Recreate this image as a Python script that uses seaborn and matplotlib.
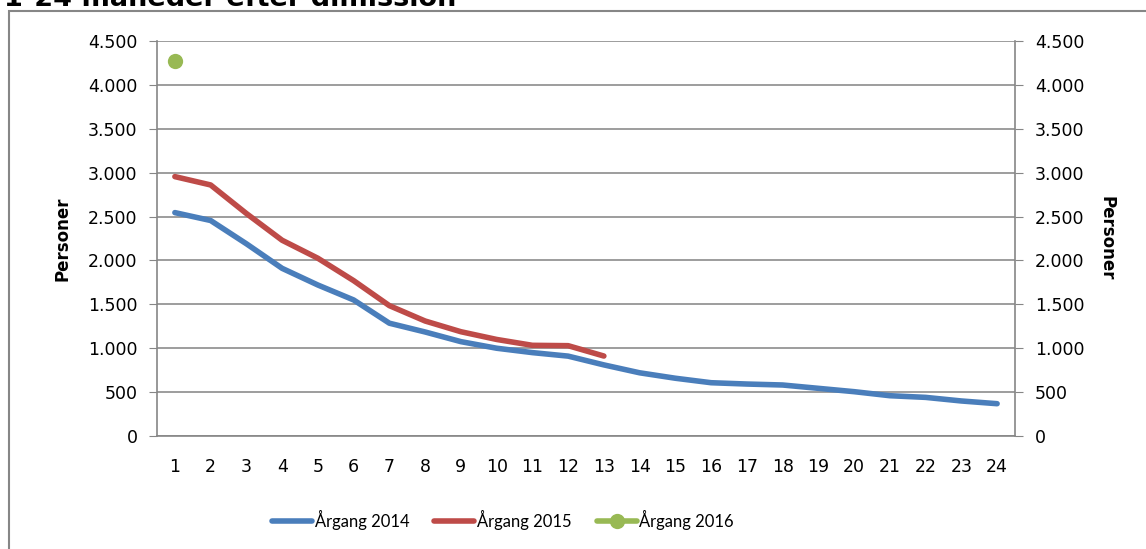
import matplotlib
matplotlib.use("Agg")
import matplotlib.pyplot as plt
from matplotlib.patches import Rectangle
from matplotlib.ticker import FuncFormatter, MultipleLocator
import numpy as np
import pandas as pd
import seaborn as sns

# data
months = list(range(1, 25))
aargang_2014 = [2545, 2455, 2190, 1910, 1720, 1550, 1285, 1185, 1075, 1000,
                950, 910, 810, 720, 658, 607, 592, 581, 543, 505, 459, 440, 399, 368]
aargang_2015 = [2955, 2860, 2535, 2230, 2025, 1770, 1485, 1310, 1188, 1100,
                1033, 1029, 911]
aargang_2016 = [4272]

series = [("Årgang 2014", aargang_2014, "#4a7ebb"),
          ("Årgang 2015", aargang_2015, "#be4b48"),
          ("Årgang 2016", aargang_2016, "#98b954")]

sns.set_style("white")
plt.rcParams['font.family'] = ['DejaVu Sans']
plt.rcParams['text.color'] = 'black'
plt.rcParams['xtick.labelcolor'] = 'black'
plt.rcParams['ytick.labelcolor'] = 'black'

fig = plt.figure(figsize=(11.46, 5.49), dpi=100)
ax = fig.add_axes([157 / 1146, 1 - 436 / 549, (1015 - 157) / 1146, (436 - 41) / 549])

for name, vals, col in series:
    df = pd.DataFrame({"month": months[:len(vals)], "value": vals})
    if len(vals) == 1:
        sns.lineplot(data=df, x="month", y="value", ax=ax, color=col, lw=4,
                     marker="o", markersize=11, markeredgewidth=0, label=name)
    else:
        sns.lineplot(data=df, x="month", y="value", ax=ax, color=col, lw=4,
                     solid_capstyle="round", label=name)

fmt = FuncFormatter(lambda v, p: f"{int(v):,}".replace(",", "."))
ax.set_xlim(0.5, 24.5)
ax.set_ylim(0, 4500)
ax.yaxis.set_major_locator(MultipleLocator(500))
ax.yaxis.set_major_formatter(fmt)
ax.set_xticks(months)
ax.set_xticks(np.arange(0.5, 25, 1), minor=True)
ax.tick_params(axis="x", which="major", length=0, pad=16, labelsize=12.5)
ax.tick_params(axis="x", which="minor", length=6, color="#868686", direction="out")
ax.tick_params(axis="y", length=6, color="#868686", direction="out", labelsize=12.5, pad=8)
ax.grid(axis="y", color="#8c8c8c", lw=1.2)
ax.set_axisbelow(True)
for s in ["top", "right"]:
    ax.spines[s].set_visible(False)
for s in ["left", "bottom"]:
    ax.spines[s].set_color("#868686")
    ax.spines[s].set_linewidth(1.2)
ax.set_xlabel("")
ax.set_ylabel("Personer", fontsize=12, fontweight="bold", labelpad=12, color="black")

ax2 = ax.twinx()
ax2.set_ylim(0, 4500)
ax2.yaxis.set_major_locator(MultipleLocator(500))
ax2.yaxis.set_major_formatter(fmt)
ax2.tick_params(axis="y", length=6, color="#868686", direction="out", labelsize=12.5, pad=8.5)
for s in ["top", "left", "bottom"]:
    ax2.spines[s].set_visible(False)
ax2.spines["right"].set_color("#868686")
ax2.spines["right"].set_linewidth(1.2)
ax2.set_ylabel("Personer", fontsize=12, fontweight="bold", rotation=-90, labelpad=22,
               color="black")

handles, labels = ax.get_legend_handles_labels()
ax.get_legend().remove()
fig.legend(handles, labels, loc="center", bbox_to_anchor=(503 / 1146, 1 - 520 / 549),
           ncol=3, frameon=False, handlelength=2.4, handletextpad=0.15,
           columnspacing=1.5, prop={"family": "Lato", "size": 12})

# outer chart border and the clipped title
fig.patches.append(Rectangle((9 / 1146, -0.01), 1.2, 1 - 11 / 549 + 0.01,
                             transform=fig.transFigure, fill=False,
                             edgecolor="#868686", lw=1.5))
fig.text(4 / 1146, 1 - 6 / 549, "1-24 måneder efter dimission", fontsize=19.5,
         fontweight="bold", va="baseline", ha="left")

fig.savefig("out.png", dpi=100)
